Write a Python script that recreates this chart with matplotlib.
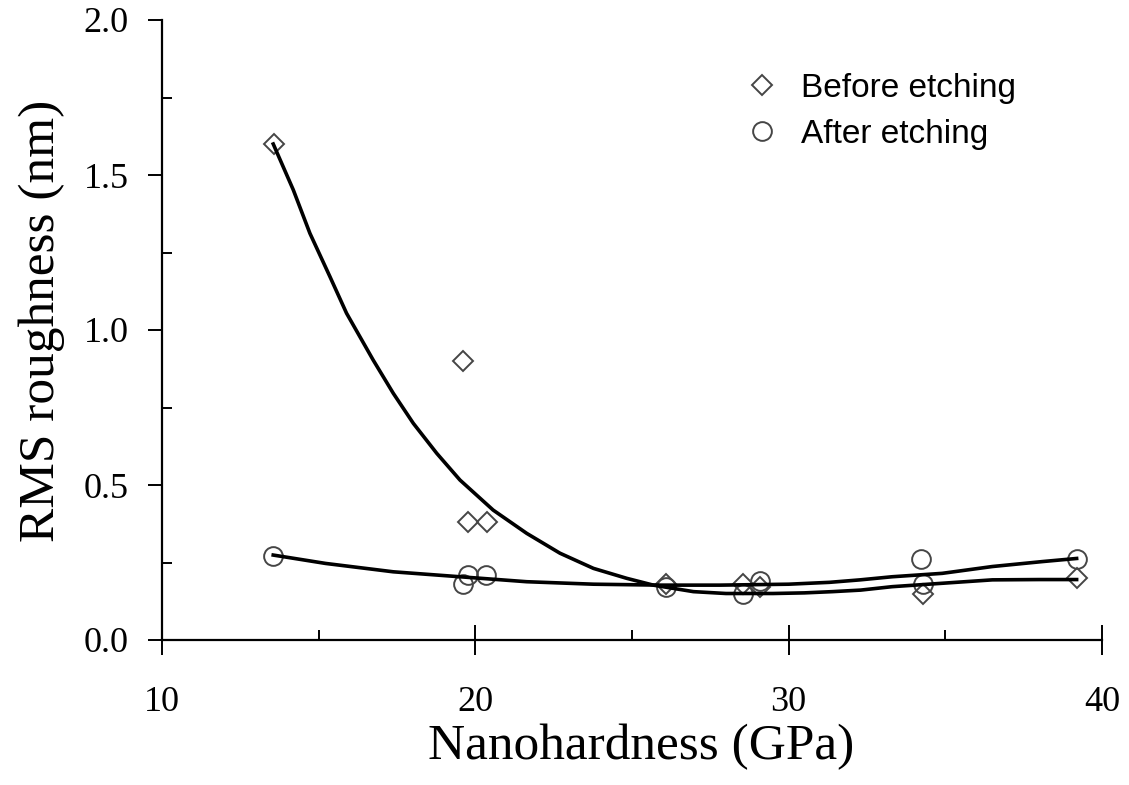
import matplotlib
matplotlib.use("Agg")
import matplotlib.pyplot as plt
from matplotlib.ticker import MultipleLocator

# ---- data ----
before_x = [13.57, 19.60, 19.77, 20.37, 26.10, 28.55, 29.09, 34.30, 39.19]
before_y = [1.60, 0.90, 0.38, 0.38, 0.18, 0.18, 0.17, 0.15, 0.20]

after_x = [13.55, 19.62, 19.78, 20.33, 26.10, 28.55, 29.09, 34.23, 34.30, 39.19]
after_y = [0.27, 0.18, 0.21, 0.21, 0.17, 0.15, 0.19, 0.26, 0.18, 0.26]

# fitted curves
before_fit_x = [13.55, 14.19, 14.72, 15.36, 15.89, 16.74, 17.38, 18.02, 18.77, 19.51,
                20.10, 20.57, 21.64, 22.70, 23.77, 24.83, 25.68, 26.96, 28.00, 29.50,
                30.50, 31.40, 32.30, 33.30, 34.90, 36.50, 38.00, 39.19]
before_fit_y = [1.600, 1.452, 1.312, 1.172, 1.054, 0.903, 0.796, 0.699, 0.602, 0.516,
                0.462, 0.419, 0.344, 0.280, 0.231, 0.199, 0.177, 0.156, 0.150, 0.150,
                0.152, 0.156, 0.161, 0.172, 0.183, 0.194, 0.195, 0.195]

after_fit_x = [13.55, 15.22, 17.38, 19.51, 21.64, 23.77, 25.90, 27.80, 30.00, 31.30,
               32.28, 33.30, 34.90, 36.50, 38.10, 39.19]
after_fit_y = [0.274, 0.247, 0.220, 0.204, 0.188, 0.180, 0.177, 0.177, 0.180, 0.186,
               0.194, 0.204, 0.215, 0.237, 0.253, 0.263]

labels = ["Before etching", "After etching"]
x_label = "Nanohardness (GPa)"
y_label = "RMS roughness (nm)"

# ---- figure ----
fig = plt.figure(figsize=(11.29, 7.85), dpi=100)
ax = fig.add_axes([162/1129, 1 - 640/785, (1102-162)/1129, (640-20)/785])

mec = "#454545"
h1, = ax.plot(before_x, before_y, linestyle="none", marker="D", ms=10,
              mfc="none", mec=mec, mew=1.4, zorder=3)
h2, = ax.plot(after_x, after_y, linestyle="none", marker="o", ms=13.5,
              mfc="none", mec=mec, mew=1.4, zorder=3)
ax.plot(before_fit_x, before_fit_y, color="black", lw=2.6, zorder=4)
ax.plot(after_fit_x, after_fit_y, color="black", lw=2.6, zorder=4)

ax.set_xlim(10, 40)
ax.set_ylim(0, 2.0)
ax.xaxis.set_major_locator(MultipleLocator(10))
ax.xaxis.set_minor_locator(MultipleLocator(5))
ax.yaxis.set_major_locator(MultipleLocator(0.5))
ax.yaxis.set_minor_locator(MultipleLocator(0.25))
ax.yaxis.set_major_formatter(plt.FormatStrFormatter("%.1f"))

for s in ["top", "right"]:
    ax.spines[s].set_visible(False)
for s in ["left", "bottom"]:
    ax.spines[s].set_linewidth(1.6)
    ax.spines[s].set_color("black")

serif = ["Liberation Serif", "DejaVu Serif"]
ax.tick_params(axis="x", which="major", direction="inout", length=22, width=1.4,
               pad=22, labelsize=26)
ax.tick_params(axis="x", which="minor", direction="in", length=7, width=1.4)
ax.tick_params(axis="y", which="major", direction="out", length=10, width=1.4,
               pad=14, labelsize=26)
ax.tick_params(axis="y", which="minor", direction="in", length=7, width=1.4)
for lab in ax.get_xticklabels() + ax.get_yticklabels():
    lab.set_fontfamily(serif)

ax.set_xlabel(x_label, fontsize=37, fontfamily=serif)
ax.set_ylabel(y_label, fontsize=37, fontfamily=serif)
ax.xaxis.set_label_coords(0.5096, -0.135)
ax.yaxis.set_label_coords(-0.103, 0.515)

leg = ax.legend([h1, h2], labels, loc="upper left",
                bbox_to_anchor=(745/1129, 1 - 73/785), bbox_transform=fig.transFigure,
                frameon=False, numpoints=1, handlelength=1.0, handletextpad=0.68,
                labelspacing=0.45, borderaxespad=0, borderpad=0,
                prop={"family": ["Liberation Sans", "DejaVu Sans"], "size": 24})

fig.savefig("out.png", dpi=100)
